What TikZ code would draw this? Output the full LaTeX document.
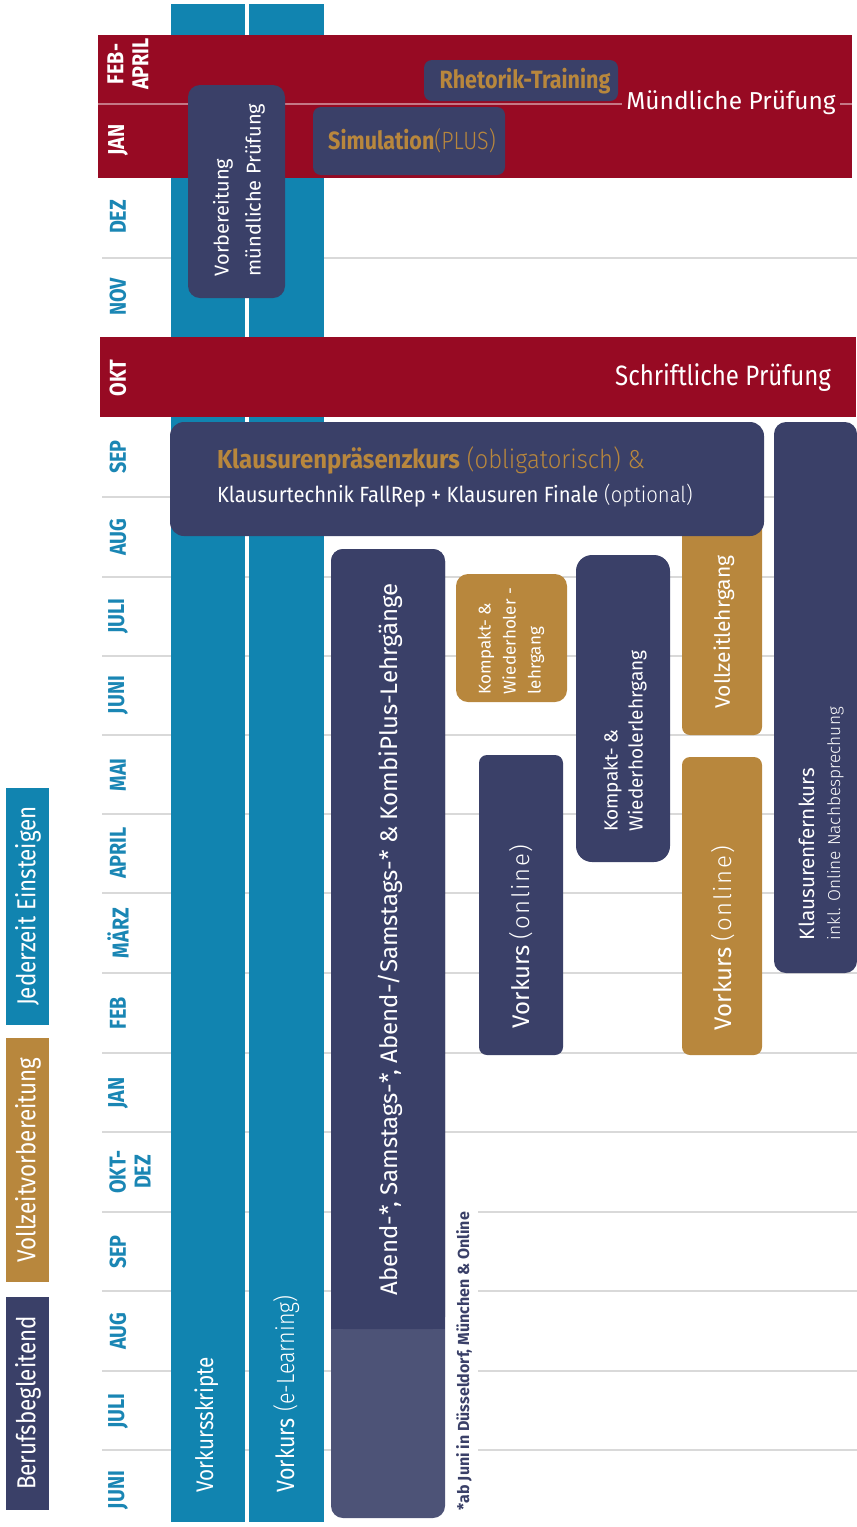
\documentclass[tikz,border=0pt]{standalone}
\usepackage{fontspec}
\setmainfont{Fira Sans}
\newfontfamily\cond{Fira Sans}[FakeStretch=0.86]
\newfontfamily\condx{Fira Sans}[FakeStretch=0.92]
\newfontfamily\lite{Fira Sans Light}
\newfontfamily\litecond{Fira Sans Light}[FakeStretch=0.86]
\newfontfamily\litecondx{Fira Sans Light}[FakeStretch=0.92]
\newfontfamily\litesp{Fira Sans Light}[LetterSpace=7]
\definecolor{dbred}{HTML}{970A23}
\definecolor{dbblue}{HTML}{1184B0}
\definecolor{dbnavy}{HTML}{3A4068}
\definecolor{dbgold}{HTML}{B8873D}
\definecolor{dbgrey}{HTML}{D9D9D9}
\definecolor{dbmon}{HTML}{1A86B4}
\newcommand\fs[2]{\fontsize{#1}{#2}\selectfont}
\newcommand\bx[6]{\node[area,#2,minimum width={#5-#3},minimum height={#6-#4}] (#1) at (#3,#4) {};}
\tikzset{
  area/.style={inner sep=0pt, outer sep=0pt, anchor=north west, draw=none},
  rnd/.style={rounded corners=12pt},
  rnds/.style={rounded corners=8pt},
  grid/.style={dbgrey, line width=1.6pt},
  txt/.style={inner sep=0pt, outer sep=0pt, text=white},
  vtxt/.style={txt, rotate=90},
  mon/.style={rotate=90, inner sep=0pt, text=dbmon, align=center, font=\cond\bfseries\fs{23}{25}},
  monw/.style={mon, text=white},
}
\begin{document}
\begin{tikzpicture}[x=1pt,y=-1pt]
\useasboundingbox (0,0) rectangle (857,1527);
% grid lines
\foreach \yy in {258,497,577,656,735,814,893,973,1053,1132}
  \draw[grid] (102,\yy) -- (857,\yy);
\foreach \yy in {1212,1291,1371,1450}{
  \draw[grid] (102,\yy) -- (331,\yy);
  \draw[grid] (478,\yy) -- (857,\yy);}
% blue columns
\bx{skripte}{fill=dbblue}{171}{4}{245}{1522}
\bx{elearn}{fill=dbblue}{249}{4}{324}{1522}
% red bands
\bx{muendl}{fill=dbred}{98}{35}{852}{178}
\bx{schriftl}{fill=dbred}{100}{337}{856}{417}
\draw[white, opacity=.45, line width=1.2pt] (98,104) -- (622,104) (838,104) -- (852,104);
% boxes
\bx{vorb}{fill=dbnavy,rnd}{188}{85}{285}{298}
\bx{rhet}{fill=dbnavy,rnds}{424}{60}{618}{101}
\bx{simu}{fill=dbnavy,rnds}{313}{107}{505}{175}
\bx{vollz}{fill=dbgold,rnds}{682}{500}{762}{735}
\bx{klaus}{fill=dbnavy,rounded corners=14pt}{170}{422}{764}{536}
\bx{fern}{fill=dbnavy,rnd}{774}{422}{857}{973}
\bx{vkgold}{fill=dbgold,rnds}{682}{757}{762}{1055}
\bx{vknavy}{fill=dbnavy,rnds}{479}{755}{563}{1055}
\bx{kompn}{fill=dbnavy,rounded corners=16pt}{576}{555}{670}{862}
\bx{kompg}{fill=dbgold,rnd}{456}{574}{567}{702}
% Abend box (lower part translucent)
\bx{abendlow}{fill=dbnavy,fill opacity=.9,rnd}{331}{549}{445}{1518}
\bx{abend}{fill=dbnavy,rnd}{331}{549}{445}{1329}
\bx{abendfix}{fill=dbnavy}{331}{1305}{445}{1329}
% legend
\bx{legblue}{fill=dbblue}{6}{788}{49}{1025}
\bx{leggold}{fill=dbgold}{6}{1038}{49}{1282}
\bx{legnavy}{fill=dbnavy}{6}{1297}{49}{1510}
% month labels
\node[monw] (m1) at (128,64) {FEB-\\APRIL};
\node[monw] (m2) at (118,140) {JAN};
\node[mon] (m3) at (118,217) {DEZ};
\node[mon] (m4) at (118,297) {NOV};
\node[monw] (m5) at (118,378) {OKT};
\node[mon] (m6) at (118,457) {SEP};
\node[mon] (m7) at (118,537) {AUG};
\node[mon] (m8) at (118,616) {JULI};
\node[mon] (m9) at (118,695) {JUNI};
\node[mon] (m10) at (118,775) {MAI};
\node[mon] (m11) at (118,853) {APRIL};
\node[mon] (m12) at (118,933) {MÄRZ};
\node[mon] (m13) at (118,1013) {FEB};
\node[mon] (m14) at (118,1093) {JAN};
\node[mon] (m15) at (130,1172) {OKT-\\DEZ};
\node[mon] (m16) at (118,1252) {SEP};
\node[mon] (m17) at (118,1331) {AUG};
\node[mon] (m18) at (118,1411) {JULI};
\node[mon] (m19) at (118,1490) {JUNI};
% band texts
\node[txt, font=\fs{24.5}{28}, fill=dbred, inner xsep=4pt] (tm) at (731,103) {Mündliche Prüfung};
\node[txt, anchor=east, font=\cond\fs{28}{30}] (ts) at (831,378) {Schriftliche Prüfung};
% box texts
\node[vtxt, align=left, font=\fs{20}{32}] (tvorb) at (239,190) {Vorbereitung\\mündliche Prüfung};
\node[txt, text=dbgold, font=\cond\bfseries\fs{25}{28}] (trhet) at (525,81) {Rhetorik-Training};
\node[txt, text=dbgold, font=\fs{25}{28}] (tsimu) at (412,141) {{\cond\bfseries Simulation}{\litecond(PLUS)}};
\node[txt, anchor=base west, text=dbgold, font=\fs{26}{28}] (tk1) at (217,468) {{\condx\bfseries Klausurenpräsenzkurs} {\litecondx(obligatorisch) \&}};
\node[txt, anchor=base west, font=\fs{22}{24}] (tk2) at (217,502) {{\condx Klausurtechnik FallRep + Klausuren Finale} {\litecondx(optional)}};
\node[vtxt, anchor=base west, font=\fs{20.7}{22}] (tf1) at (814,940) {Klausurenfernkurs};
\node[vtxt, anchor=base west, font=\lite\fs{17.3}{20}] (tf2) at (840,940) {inkl. Online Nachbesprechung};
\node[vtxt, font=\fs{21}{24}] (tvz) at (724,632) {Vollzeitlehrgang};
\node[vtxt, anchor=base west, font=\fs{24}{28}] (tvg) at (731,1030) {Vorkurs {\litesp(online)}};
\node[vtxt, anchor=base west, font=\fs{24}{28}] (tvn) at (529,1028) {Vorkurs {\litesp(online)}};
\node[vtxt, align=left, font=\fs{19}{25}] (tkn) at (625,741) {Kompakt- \&\\Wiederholerlehrgang};
\node[vtxt, align=left, font=\fs{17}{25}] (tkg) at (511,641) {Kompakt- \&\\Wiederholer -\\lehrgang};
\node[vtxt, anchor=base west, font=\fs{24}{28}] (tab) at (397,1295) {Abend-*, Samstags-*, Abend-/Samstags-* \& KombiPlus-Lehrgänge};
\node[vtxt, anchor=base west, text=dbnavy, font=\bfseries\fs{16}{18}] (tfn) at (469,1510) {*ab Juni in Düsseldorf, München \& Online};
% column texts
\node[vtxt, anchor=base west, font=\cond\fs{24}{26}] (tsk) at (213,1492) {Vorkursskripte};
\node[vtxt, anchor=base west, font=\fs{25}{28}] (tel) at (294,1492) {{\cond Vorkurs} {\litecond(e-Learning)}};
% legend texts
\node[vtxt, font=\cond\fs{26}{28}] (l1) at (28,906) {Jederzeit Einsteigen};
\node[vtxt, font=\cond\fs{26}{28}] (l2) at (28,1160) {Vollzeitvorbereitung};
\node[vtxt, font=\cond\fs{26}{28}] (l3) at (28,1403) {Berufsbegleitend};
\end{tikzpicture}
\end{document}
